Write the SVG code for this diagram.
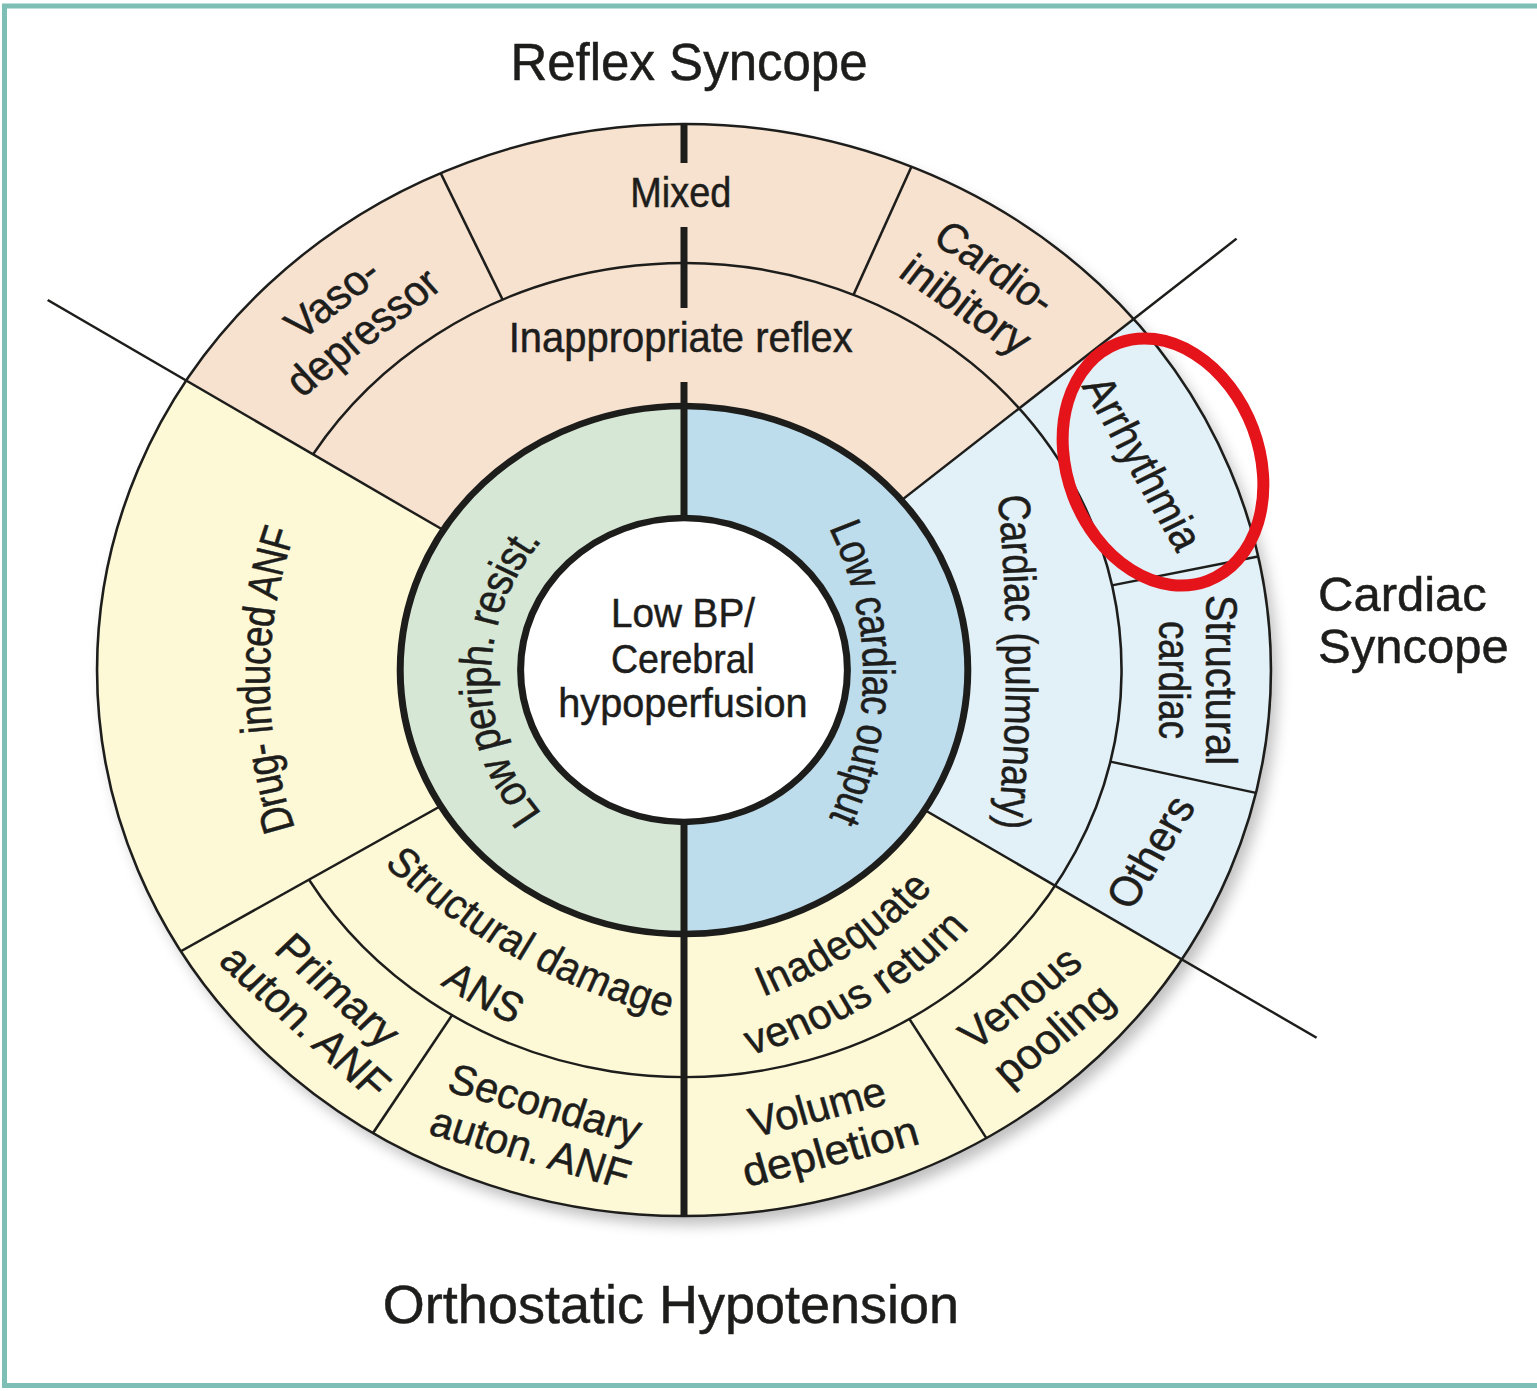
<svg xmlns="http://www.w3.org/2000/svg" width="1537" height="1391" viewBox="0 0 1537 1391">
<defs>
<filter id="sh" x="-20%" y="-20%" width="140%" height="140%"><feGaussianBlur stdDeviation="7"/></filter>
<path id="pLCO" d="M120.7 -197 A362 362 0 0 1 120.7 203"/>
<path id="pLPR" d="M-96.6 197 A234 234 0 0 1 -96.6 -183"/>
<path id="pCP" d="M300.5 -228 A1800 1800 0 0 1 300.5 212"/>
<path id="pDrug" d="M-357 210 A488 488 0 0 1 -357 -190"/>
<path id="pSD" d="M-366 61.3 A600 600 0 0 0 157.3 355"/>
<path id="pANS" d="M-425.1 79 A660 660 0 0 0 143.1 415"/>
<path id="pInad" d="M-47.5 339.1 A405.5 405.5 0 0 0 287.8 111"/>
<path id="pVen" d="M-76.4 391.7 A457 457 0 0 0 318.9 162.3"/>
</defs>
<style>
.t{font-family:"Liberation Sans",Arial,sans-serif;fill:#1d1d1b;stroke:#1d1d1b;stroke-width:0.5px;}
.lab{font-size:42px;text-anchor:middle;dominant-baseline:central;}
.thin{fill:none;stroke:#1d1d1b;stroke-width:2.4;}
.thick{fill:none;stroke:#1d1d1b;stroke-width:6.5;}
</style>
<rect x="0" y="0" width="1537" height="1391" fill="#ffffff"/>
<rect x="4.5" y="6" width="1560" height="1379.5" fill="none" stroke="#7dbfb4" stroke-width="5"/>

<g id="titles">
<text id="title-reflex" class="t" x="689" y="80" font-size="51" text-anchor="middle">Reflex Syncope</text>
<text id="title-ortho" class="t" x="671" y="1323" font-size="54" text-anchor="middle">Orthostatic Hypotension</text>
<text id="title-cardiac" class="t" font-size="49"><tspan x="1318" y="611">Cardiac</tspan><tspan x="1318" y="663">Syncope</tspan></text>
</g>

<g id="diagram" transform="translate(684,670) scale(1.075,1)">
<circle cx="6" cy="9" r="546" fill="#000" opacity="0.25" filter="url(#sh)"/>
<g id="sectors">
<circle r="546" fill="#fdf8d6"/>
<path d="M0 0 L-463 -289.3 A546 546 0 0 1 418.2 -351 Z" fill="#f7e1cf"/>
<path d="M0 0 L418.2 -351 A546 546 0 0 1 463 289.3 Z" fill="#e2f0f7"/>
<path d="M0 -264 A264 264 0 0 0 0 264 Z" fill="#d6e7d5"/>
<path d="M0 -264 A264 264 0 0 1 0 264 Z" fill="#bddcec"/>
<circle r="152" fill="#ffffff"/>
</g>
<g id="connectors">
<circle class="thin" r="546"/>
<path class="thin" d="M-345.1 -215.7 A407 407 0 1 1 -348.9 209.6"/>
<path class="thin" d="M-223.9 -139.9 L-591.9 -369.9"/>
<path class="thin" d="M202.2 -169.7 L514 -431.3"/>
<path class="thin" d="M223.9 139.9 L588.5 367.8"/>
<path class="thin" d="M-226.3 136 L-468 281.2"/>
<path class="thin" d="M-168.8 -370.4 L-226.4 -496.9"/>
<path class="thin" d="M157.7 -375.2 L211.6 -503.4"/>
<path class="thin" d="M398.1 -84.6 L534 -113.5"/>
<path class="thin" d="M396.6 91.6 L532 122.9"/>
<path class="thin" d="M-215.7 345.1 L-289.3 463"/>
<path class="thin" d="M209.6 348.9 L281.2 468"/>
<circle class="thick" r="264"/>
<circle class="thick" r="152"/>
<path class="thick" d="M0 -546 V-507 M0 -443 V-362 M0 -288 V-152 M0 152 V546"/>
</g>

<g id="center"><text class="t" font-size="41" text-anchor="middle"><tspan x="-1" y="-43" textLength="134" lengthAdjust="spacingAndGlyphs">Low BP/</tspan><tspan x="-1" y="3" textLength="134" lengthAdjust="spacingAndGlyphs">Cerebral</tspan><tspan x="-1" y="47.5" textLength="232" lengthAdjust="spacingAndGlyphs">hypoperfusion</tspan></text></g>

<g id="low-periph"><text class="t lab" font-size="38"><textPath href="#pLPR" startOffset="50%" textLength="313" lengthAdjust="spacingAndGlyphs">Low periph. resist.</textPath></text></g>
<g id="low-cardiac"><text class="t lab" font-size="38"><textPath href="#pLCO" startOffset="50%" textLength="311" lengthAdjust="spacingAndGlyphs">Low cardiac output</textPath></text></g>

<g id="mixed"><text class="t lab" x="-3" y="-477" textLength="94" lengthAdjust="spacingAndGlyphs">Mixed</text></g>
<g id="inappropriate"><text class="t lab" x="-3" y="-332" font-size="43" textLength="320" lengthAdjust="spacingAndGlyphs">Inappropriate reflex</text></g>
<g id="vaso"><text class="t lab" transform="translate(-313,-355) rotate(-40)"><tspan x="0" y="-22" textLength="100" lengthAdjust="spacingAndGlyphs">Vaso-</tspan><tspan x="0" y="22" textLength="172" lengthAdjust="spacingAndGlyphs">depressor</tspan></text></g>
<g id="cardioinhib"><text class="t lab" transform="translate(276,-384) rotate(36)"><tspan x="0" y="-23" textLength="127" lengthAdjust="spacingAndGlyphs">Cardio-</tspan><tspan x="0" y="23" textLength="138" lengthAdjust="spacingAndGlyphs">inibitory</tspan></text></g>

<g id="arrhythmia"><text class="t lab" transform="translate(427,-207) rotate(62)" textLength="190" lengthAdjust="spacingAndGlyphs">Arrhythmia</text></g>
<g id="structural-cardiac"><text class="t lab" transform="translate(478,10) rotate(90)"><tspan x="0" y="-22" textLength="170" lengthAdjust="spacingAndGlyphs">Structural</tspan><tspan x="0" y="22" textLength="118" lengthAdjust="spacingAndGlyphs">cardiac</tspan></text></g>
<g id="others"><text class="t lab" transform="translate(434,182) rotate(-60)" textLength="122" lengthAdjust="spacingAndGlyphs">Others</text></g>
<g id="cardiac-pulm"><text class="t lab" font-size="38"><textPath href="#pCP" startOffset="50%" textLength="335" lengthAdjust="spacingAndGlyphs">Cardiac (pulmonary)</textPath></text></g>

<g id="drug"><text class="t lab" font-size="42"><textPath href="#pDrug" startOffset="50%" textLength="310" lengthAdjust="spacingAndGlyphs">Drug- induced ANF</textPath></text></g>
<g id="structural-damage"><text class="t lab" font-size="40"><textPath href="#pSD" startOffset="49%" textLength="302" lengthAdjust="spacingAndGlyphs">Structural damage</textPath></text><text class="t lab" font-size="40"><textPath href="#pANS" startOffset="50%" textLength="78" lengthAdjust="spacingAndGlyphs">ANS</textPath></text></g>
<g id="inadequate"><text class="t lab" font-size="40"><textPath href="#pInad" startOffset="50%" textLength="187" lengthAdjust="spacingAndGlyphs">Inadequate</textPath></text><text class="t lab" font-size="40"><textPath href="#pVen" startOffset="53%" textLength="236" lengthAdjust="spacingAndGlyphs">venous return</textPath></text></g>
<g id="primary"><text class="t lab" transform="translate(-337,336) rotate(44)"><tspan x="0" y="-22" textLength="142" lengthAdjust="spacingAndGlyphs">Primary</tspan><tspan x="0" y="22" textLength="200" lengthAdjust="spacingAndGlyphs">auton. ANF</tspan></text></g>
<g id="secondary"><text class="t lab" transform="translate(-136,456) rotate(17)"><tspan x="0" y="-23" textLength="185" lengthAdjust="spacingAndGlyphs">Secondary</tspan><tspan x="0" y="23" textLength="192" lengthAdjust="spacingAndGlyphs">auton. ANF</tspan></text></g>
<g id="volume"><text class="t lab" transform="translate(130,459) rotate(-15)"><tspan x="0" y="-23" textLength="130" lengthAdjust="spacingAndGlyphs">Volume</tspan><tspan x="0" y="23" textLength="168" lengthAdjust="spacingAndGlyphs">depletion</tspan></text></g>
<g id="venous-pooling"><text class="t lab" transform="translate(328,346) rotate(-40)"><tspan x="0" y="-24" textLength="133" lengthAdjust="spacingAndGlyphs">Venous</tspan><tspan x="0" y="24" textLength="132" lengthAdjust="spacingAndGlyphs">pooling</tspan></text></g>
</g>

<ellipse id="highlight" cx="1163" cy="462" rx="96" ry="127" transform="rotate(-20.6 1163 462)" fill="none" stroke="#e5141b" stroke-width="12"/>
</svg>
